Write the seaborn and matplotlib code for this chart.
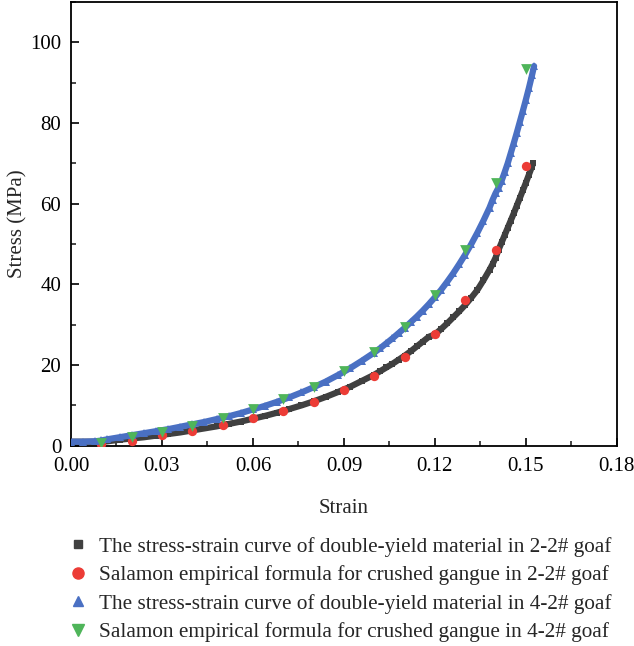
import matplotlib
matplotlib.use("Agg")
import matplotlib.pyplot as plt
from matplotlib.lines import Line2D
from matplotlib.ticker import MultipleLocator, FormatStrFormatter
import seaborn as sns
import pandas as pd

sns.set_theme(style="white")
plt.rcParams["font.family"] = ["Liberation Serif", "DejaVu Serif"]

# Double-yield model curve, 2-2# goaf
strain_dy22 = [0.000, 0.004, 0.008, 0.010, 0.012, 0.016, 0.020, 0.024, 0.028, 0.032,
               0.036, 0.040, 0.044, 0.048, 0.052, 0.056, 0.060, 0.064, 0.068, 0.072,
               0.076, 0.080, 0.084, 0.088, 0.092, 0.096, 0.100, 0.102, 0.104, 0.106,
               0.108, 0.110, 0.112, 0.114, 0.116, 0.118, 0.120, 0.122, 0.124, 0.126,
               0.128, 0.130, 0.132, 0.134, 0.136, 0.138, 0.139, 0.140, 0.141, 0.142,
               0.143, 0.144, 0.145, 0.146, 0.147, 0.148, 0.149, 0.150, 0.151, 0.152,
               0.1523]
stress_dy22 = [1.0, 1.0, 1.0, 1.0, 1.1, 1.5, 1.8, 2.1, 2.5, 2.9,
               3.3, 3.8, 4.3, 4.8, 5.4, 6.0, 6.7, 7.4, 8.2, 9.1,
               10.0, 11.0, 12.1, 13.3, 14.6, 16.1, 17.6, 18.5, 19.4, 20.3,
               21.3, 22.3, 23.4, 24.6, 25.8, 27.0, 27.6, 28.9, 30.3, 31.8,
               33.3, 34.9, 36.7, 38.6, 41.0, 43.6, 45.0, 46.6, 48.6, 50.4,
               52.2, 54.0, 55.8, 57.6, 59.5, 61.4, 63.3, 65.2, 67.2, 69.2,
               70.0]

# Double-yield model curve, 4-2# goaf
strain_dy42 = [0.000, 0.004, 0.008, 0.010, 0.012, 0.016, 0.020, 0.024, 0.028, 0.032,
               0.036, 0.040, 0.044, 0.048, 0.052, 0.056, 0.060, 0.064, 0.068, 0.072,
               0.076, 0.080, 0.084, 0.088, 0.092, 0.096, 0.100, 0.102, 0.104, 0.106,
               0.108, 0.110, 0.112, 0.114, 0.116, 0.118, 0.120, 0.122, 0.124, 0.126,
               0.128, 0.130, 0.132, 0.134, 0.136, 0.138, 0.139, 0.140, 0.141, 0.142,
               0.143, 0.144, 0.145, 0.146, 0.147, 0.148, 0.149, 0.150, 0.151, 0.152,
               0.1527]
stress_dy42 = [1.0, 1.0, 1.1, 1.3, 1.6, 2.1, 2.6, 3.1, 3.6, 4.1,
               4.7, 5.3, 5.9, 6.6, 7.3, 8.1, 9.0, 9.9, 10.9, 12.0,
               13.2, 14.5, 15.9, 17.5, 19.2, 21.1, 23.1, 24.2, 25.4, 26.6,
               27.9, 29.2, 30.6, 32.0, 33.5, 35.1, 36.8, 38.6, 40.6, 42.7,
               45.0, 47.4, 50.0, 52.8, 55.8, 59.0, 60.9, 62.6, 64.0, 65.7,
               67.8, 70.0, 72.5, 75.0, 77.6, 80.3, 83.0, 85.8, 88.7, 91.8,
               94.1]

# Salamon empirical formula points
strain_sal = [0.01, 0.02, 0.03, 0.04, 0.05, 0.06, 0.07, 0.08,
              0.09, 0.10, 0.11, 0.12, 0.13, 0.14, 0.15]
stress_sal22 = [0.5, 1.2, 2.6, 3.6, 5.1, 6.8, 8.7, 10.9,
                13.7, 17.4, 22.0, 27.8, 36.1, 48.5, 69.3]
stress_sal42 = [0.8, 2.1, 3.4, 5.0, 6.9, 9.2, 11.7, 14.6,
                18.5, 23.3, 29.5, 37.4, 48.6, 65.2, 93.3]

labels = [
    "The stress-strain curve of double-yield material in 2-2# goaf",
    "Salamon empirical formula for crushed gangue in 2-2# goaf",
    "The stress-strain curve of double-yield material in 4-2# goaf",
    "Salamon empirical formula for crushed gangue in 4-2# goaf",
]
c_black = "#404040"
c_red = "#ec3c36"
c_blue = "#4a70c3"
c_green = "#4fb55a"

df22 = pd.DataFrame({"strain": strain_dy22, "stress": stress_dy22})
df42 = pd.DataFrame({"strain": strain_dy42, "stress": stress_dy42})
sal = pd.DataFrame({"strain": strain_sal, "s22": stress_sal22, "s42": stress_sal42})

fig = plt.figure(figsize=(6.34, 6.46), dpi=100)
ax = fig.add_axes([0.112, 0.310, 0.861, 0.687])

sns.lineplot(data=df22, x="strain", y="stress", ax=ax, color=c_black, lw=4.5,
             marker="s", markersize=5, markeredgewidth=0, sort=False, zorder=2)
sns.scatterplot(data=sal, x="strain", y="s22", ax=ax, color=c_red, marker="o",
                s=45, linewidth=0, zorder=3)
sns.lineplot(data=df42, x="strain", y="stress", ax=ax, color=c_blue, lw=4.5,
             marker="^", markersize=6, markeredgewidth=0, sort=False, zorder=4)
sns.scatterplot(data=sal, x="strain", y="s42", ax=ax, color=c_green, marker="v",
                s=60, linewidth=0, zorder=5)

ax.set_xlim(0, 0.18)
ax.set_ylim(0, 110)
ax.xaxis.set_major_locator(MultipleLocator(0.03))
ax.xaxis.set_minor_locator(MultipleLocator(0.015))
ax.yaxis.set_major_locator(MultipleLocator(20))
ax.yaxis.set_minor_locator(MultipleLocator(10))
ax.xaxis.set_major_formatter(FormatStrFormatter("%.2f"))
ax.tick_params(axis="both", which="major", direction="in", length=6, width=1.2,
               labelsize=15, colors="black", bottom=True, left=True)
ax.tick_params(axis="x", which="major", pad=8)
ax.tick_params(axis="y", which="major", pad=7)
ax.tick_params(axis="both", which="minor", direction="in", length=3.5, width=1.2,
               bottom=True, left=True)
for sp in ax.spines.values():
    sp.set_color("black")
    sp.set_linewidth(1.3)

ax.set_xlabel("Strain", fontsize=15, labelpad=17)
ax.set_ylabel("Stress (MPa)", fontsize=15, labelpad=2)

handles = [
    Line2D([], [], ls="none", marker="s", color=c_black, markersize=6),
    Line2D([], [], ls="none", marker="o", color=c_red, markersize=8),
    Line2D([], [], ls="none", marker="^", color=c_blue, markersize=7),
    Line2D([], [], ls="none", marker="v", color=c_green, markersize=8.5),
]
fig.legend(handles, labels, loc="upper left", bbox_to_anchor=(0.093, 0.182),
           frameon=False, fontsize=15.3, handlelength=1.0, handletextpad=0.5,
           labelspacing=0.4, borderaxespad=0)

fig.savefig("out.png", dpi=100)
